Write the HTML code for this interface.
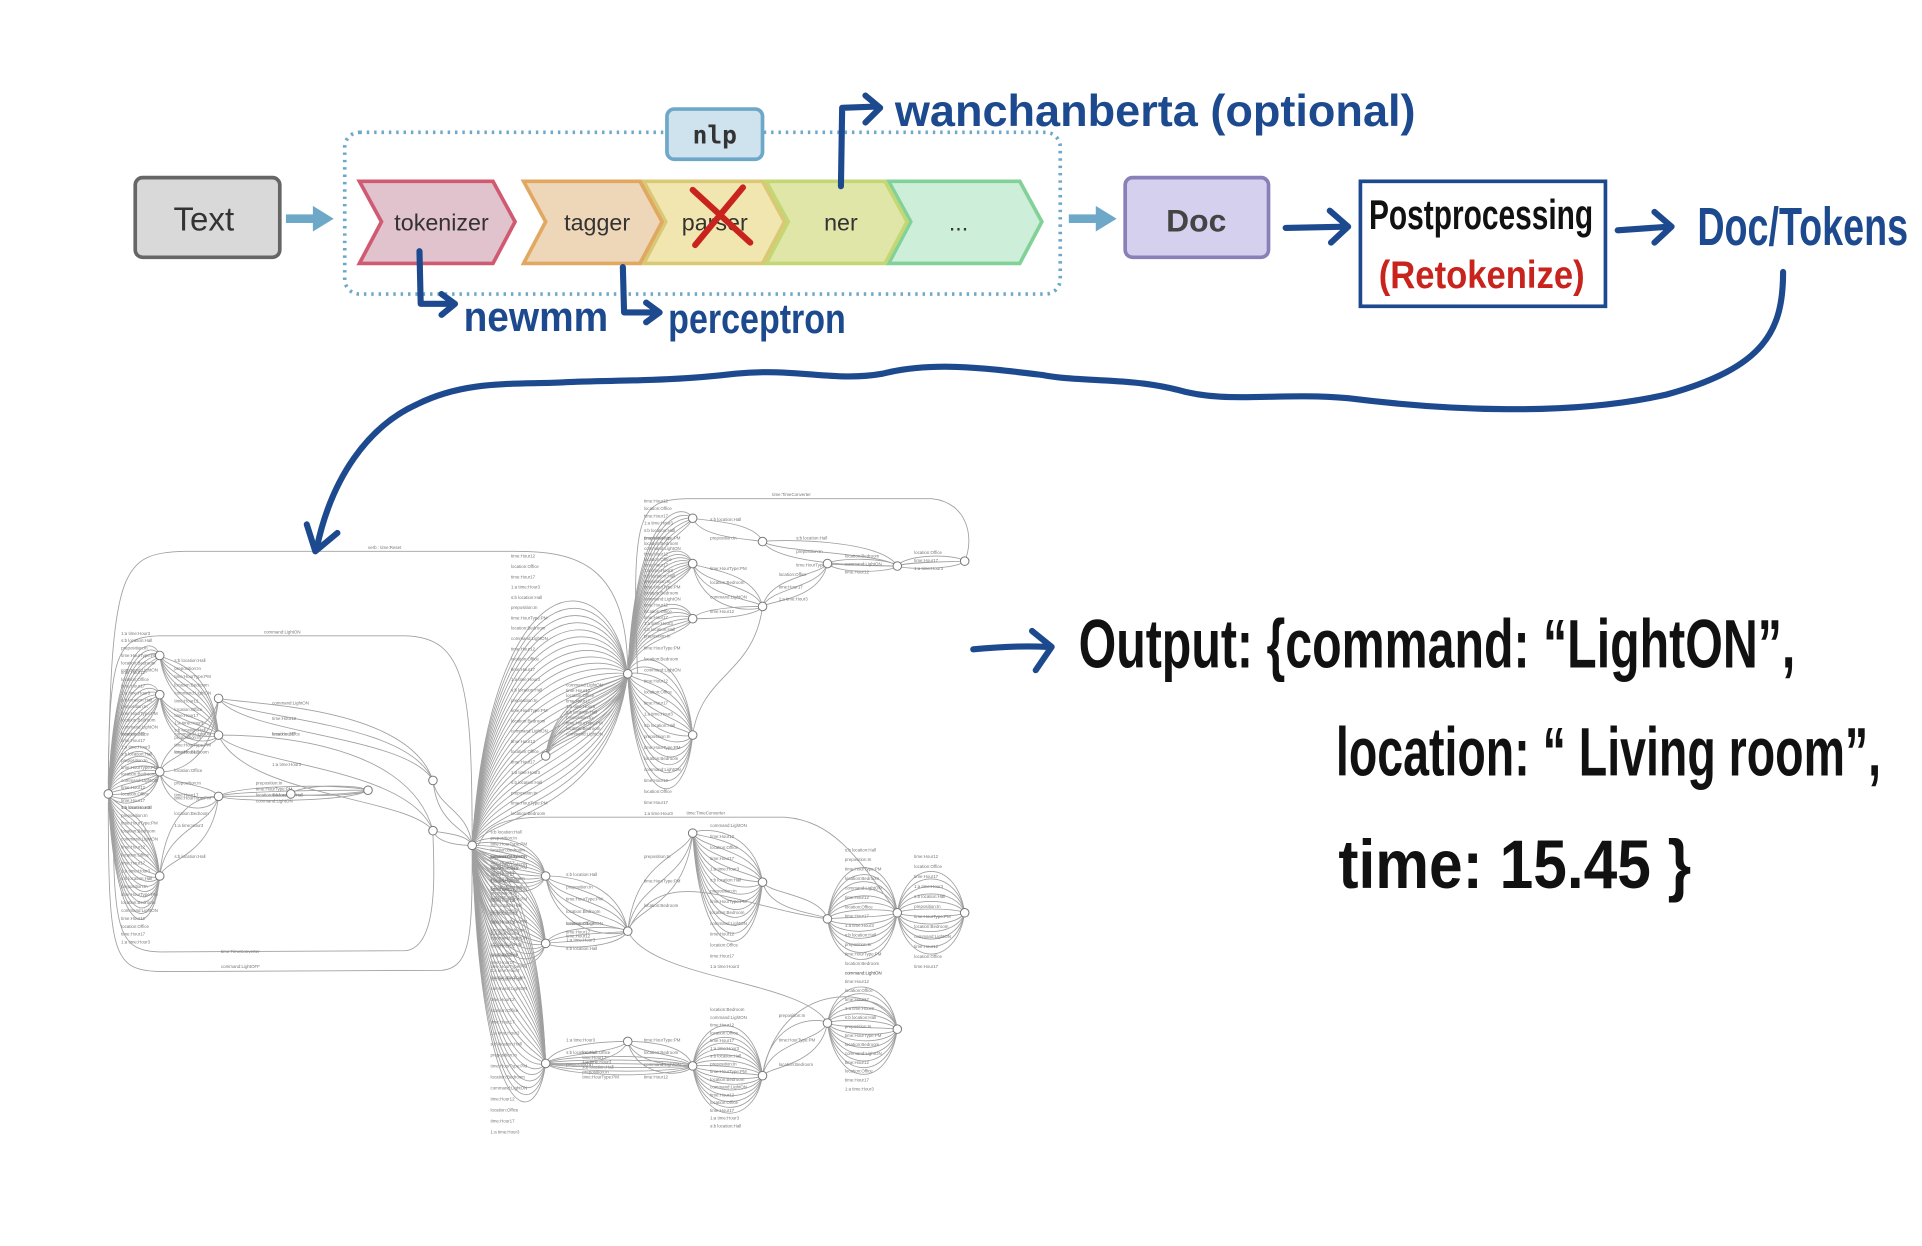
<!DOCTYPE html>
<html><head><meta charset="utf-8"><style>
html,body{margin:0;padding:0;background:#fff;width:1922px;height:1246px;overflow:hidden}
svg{display:block}
.hw{font-family:"Liberation Sans Narrow","Liberation Sans",sans-serif;font-weight:bold}
</style></head><body>
<svg id="s" width="1922" height="1246" viewBox="0 0 1568 1017" xmlns="http://www.w3.org/2000/svg">
<rect width="1568" height="1017" fill="#fff"/>
<g id="graph" fill="none" stroke="#a0a0a0" stroke-width="0.7"></g>
<g id="glabels" fill="#777" font-family="Liberation Sans, sans-serif" font-size="3.6"></g>
<g id="gnodes" fill="#fff" stroke="#777" stroke-width="0.8"></g>

<rect x="110" y="145" width="118" height="65" rx="6" fill="#d9d9d9" stroke="#666" stroke-width="3"/>
<text x="166" y="188" text-anchor="middle" font-family="Liberation Sans, sans-serif" font-size="27" fill="#333">Text</text>
<g fill="#6ea8c9"><rect x="233" y="175" width="24" height="7"/><polygon points="255,168 272,178.5 255,189"/>
<rect x="872" y="175" width="24" height="7"/><polygon points="894,168 911,178.5 894,189"/></g>
<rect x="281" y="108" width="584" height="132" rx="12" fill="none" stroke="#6ea8c9" stroke-width="3" stroke-dasharray="2 4"/>
<rect x="544" y="89" width="78" height="41" rx="6" fill="#cfe3ef" stroke="#6ea8c9" stroke-width="3"/>
<text x="583" y="117" text-anchor="middle" font-family="DejaVu Sans Mono, monospace" font-weight="bold" font-size="20" fill="#333">nlp</text>
<polygon points="725,148 832,148 850,181 832,215 725,215 743,181" fill="#cdeed8" stroke="#82d199" stroke-width="3"/>
<polygon points="625,148 722,148 740,181 722,215 625,215 643,181" fill="#e0e6a8" stroke="#c3d874" stroke-width="3"/>
<polygon points="525,148 622,148 640,181 622,215 525,215 543,181" fill="#f2e6b0" stroke="#d9c874" stroke-width="3"/>
<polygon points="427,148 522,148 540,181 522,215 427,215 445,181" fill="#eed7b8" stroke="#e1a862" stroke-width="3"/>
<polygon points="293,148 402,148 420,181 402,215 293,215 311,181" fill="#e0c3cc" stroke="#d05a72" stroke-width="3"/>
<g font-family="Liberation Sans, sans-serif" font-size="19" fill="#333" text-anchor="middle">
<text x="360" y="188">tokenizer</text><text x="487" y="188">tagger</text><text x="583" y="188">parser</text><text x="686" y="188">ner</text><text x="782" y="188">...</text></g>
<g stroke="#c8231c" stroke-width="5" stroke-linecap="round"><line x1="565" y1="155" x2="612" y2="198"/><line x1="606" y1="153" x2="567" y2="200"/></g>
<rect x="918" y="145" width="117" height="65" rx="6" fill="#d6d0ef" stroke="#8a80b8" stroke-width="3"/>
<text x="976" y="189" text-anchor="middle" font-family="Liberation Sans, sans-serif" font-weight="bold" font-size="26" fill="#444">Doc</text>
<g fill="none" stroke="#1d4a8e" stroke-width="5" stroke-linecap="round" stroke-linejoin="round">
<path d="M1049,186 L1098,185 M1085,172 L1100,185 L1086,198"/>
<path d="M1320,188 L1362,185 M1350,173 L1364,185 L1350,198"/>
<path d="M686,152 L687,88 L715,87 M706,78 L718,88 L706,100"/>
<path d="M342,205 L343,248 L368,248 M360,240 L371,248 L360,257"/>
<path d="M508,218 L509,255 L535,255 M527,247 L538,255 L527,263"/>
<path d="M1455,222 C1455,270 1440,300 1360,322 C1280,340 1180,335 1100,325 C1040,320 1000,330 960,318 C920,308 880,312 850,306 C800,300 760,295 720,305 C680,312 650,300 600,305 C540,312 500,310 460,312 C420,314 380,310 340,330 C300,348 270,390 258,448"/>
<path d="M250,428 L257,450 L275,435"/>
<path d="M794,530 C815,528 835,527 855,528 M842,515 L858,528 L845,547"/>
</g>
<g class="hw" fill="#1d4a8e">
<text x="730" y="103" font-size="36" textLength="425" lengthAdjust="spacingAndGlyphs">wanchanberta (optional)</text>
<text x="378" y="270" font-size="34" textLength="118" lengthAdjust="spacingAndGlyphs">newmm</text>
<text x="545" y="272" font-size="34" textLength="145" lengthAdjust="spacingAndGlyphs">perceptron</text>
<text x="1385" y="200" font-size="44" textLength="172" lengthAdjust="spacingAndGlyphs">Doc/Tokens</text>
</g>
<rect x="1110" y="148" width="200" height="102" fill="#fff" stroke="#1d4a8e" stroke-width="3"/>
<text class="hw" x="1117" y="187" font-size="34" fill="#111" textLength="183" lengthAdjust="spacingAndGlyphs">Postprocessing</text>
<text class="hw" x="1125" y="235" font-size="32" fill="#c8231c" textLength="168" lengthAdjust="spacingAndGlyphs">(Retokenize)</text>
<g class="hw" fill="#111">
<text x="880" y="545" font-size="56" textLength="585" lengthAdjust="spacingAndGlyphs">Output: {command: “LightON”,</text>
<text x="1090" y="633" font-size="56" textLength="445" lengthAdjust="spacingAndGlyphs">location: “ Living room”,</text>
<text x="1092" y="725" font-size="56" textLength="288" lengthAdjust="spacingAndGlyphs">time: 15.45 }</text>
</g>
</svg>
<script>
(function(){
var NS="http://www.w3.org/2000/svg",g=document.getElementById("graph"),gl=document.getElementById("glabels"),gn=document.getElementById("gnodes");
function path(d){var p=document.createElementNS(NS,"path");p.setAttribute("d",d);g.appendChild(p);}
function lab(x,y,t){var e=document.createElementNS(NS,"text");e.setAttribute("x",x);e.setAttribute("y",y);e.textContent=t;gl.appendChild(e);}
function node(x,y){var c=document.createElementNS(NS,"circle");c.setAttribute("cx",x);c.setAttribute("cy",y);c.setAttribute("r",3.5);gn.appendChild(c);}
var words=["1:a time:Hour3","s:b location:Hall","preposition:In","time:HourType:PM","location:Bedroom","command:LightON","time:Hour12","location:Office","time:Hour17"];
var wi=0;
/* fan: from a to b, n edges with mid y spanning y1..y2 */
function fan(a,b,n,y1,y2,noLab){
 for(var i=0;i<n;i++){var t=n>1?i/(n-1):0.5;var yk=y1+(y2-y1)*t;
  var dx=b[0]-a[0];var c1x=a[0]+dx*0.12,c2x=a[0]+dx*0.88;
  path("M"+a[0]+","+a[1]+" C"+c1x+","+yk+" "+c2x+","+yk+" "+b[0]+","+b[1]);
  if(!noLab){lab(a[0]+dx*0.25,yk+0.2,words[(wi++)%words.length]);}
 }
}
var N={A:[88,648],N1:[130,535],N2:[130,567],N3:[130,630],N4:[130,715],M1:[178,570],M2:[178,600],M3:[178,650],R0:[237,648],R1:[300,645],R2:[353,637],R3:[353,678],C:[385,690],
H:[512,550],H2:[565,460],H3:[565,505],H4:[565,600],H1:[565,423],T1:[622,442],T0:[622,495],T:[675,460],T2:[732,462],T3:[787,458],
L0:[445,617],L1:[445,715],L2:[445,770],L3:[445,868],P0:[512,760],P1:[565,680],P2:[622,720],P3:[565,870],P4:[622,878],Q1:[675,750],Q2:[732,745],Q3:[787,745],Q4:[675,835],Q5:[732,840],S1:[512,850]};
// left cluster
fan(N.A,N.N1,6,518,548);fan(N.A,N.N2,10,550,600);fan(N.A,N.N3,12,600,660);fan(N.A,N.N4,18,660,770);
fan(N.N1,N.M2,7,540,580);fan(N.N2,N.M2,6,585,615);fan(N.N3,N.M1,3,600,630);fan(N.N4,N.M3,3,650,700);fan(N.N3,N.M3,3,640,665);
fan(N.M1,N.R2,3,575,600);fan(N.M2,N.R3,3,600,650);fan(N.M3,N.R1,4,640,655);fan(N.R0,N.R1,2,640,650,1);
fan(N.R2,N.C,2,660,675,1);fan(N.R3,N.C,2,680,690,1);
// top-right
fan(N.C,N.H,26,455,665);fan(N.L0,N.H,10,560,600);
fan(N.H,N.H1,6,410,440);fan(N.H,N.H2,10,440,480);fan(N.H,N.H3,8,485,520);fan(N.H,N.H4,16,530,665);
fan(N.H1,N.T1,2,425,440);fan(N.H2,N.T0,4,465,500);fan(N.H3,N.T0,2,495,505,1);fan(N.T0,N.T,3,470,490);fan(N.T1,N.T2,3,440,462);fan(N.T,N.T2,3,455,468);fan(N.T2,N.T3,3,452,465);fan(N.H4,N.T0,1,550,550,1);
// bottom-right
fan(N.C,N.L1,12,680,735);fan(N.C,N.L2,16,700,800);fan(N.C,N.L3,26,700,925);
fan(N.L1,N.P0,6,715,765);fan(N.L2,N.P0,4,755,775);fan(N.P0,N.P1,3,700,740);
fan(N.P1,N.P2,14,675,790);fan(N.P2,N.Q1,2,730,745,1);fan(N.Q1,N.Q2,14,695,795);fan(N.Q2,N.Q3,12,700,790);
fan(N.L3,N.S1,3,850,870);fan(N.S1,N.P3,4,850,880);fan(N.L3,N.P3,6,860,880);fan(N.P3,N.P4,16,825,920);fan(N.P4,N.Q4,3,830,870);fan(N.Q4,N.Q5,14,795,890);
fan(N.P0,N.Q4,1,800,800,1);fan(N.P4,N.Q5,1,800,800,1);
path("M88,640 C90,460 100,452 150,450 L420,450 C470,450 512,460 512,550");
path("M88,650 C88,530 95,520 130,519 L330,519 C380,520 385,560 385,690");
path("M88,655 C88,780 92,792 130,793 L360,792 C385,790 385,760 385,690");
path("M92,660 C92,760 96,776 130,777 L330,776 C360,774 353,700 353,678");
path("M520,550 C515,420 520,408 560,407 L760,407 C790,410 795,440 787,458");
path("M390,690 C395,680 400,668 440,667 L640,667 C680,670 700,700 732,745");
path("M512,760 C540,700 600,740 675,750");
for(var k in N)node(N[k][0],N[k][1]);
lab(300,448,"verb : time:Reset");lab(215,517,"command:LightON");lab(630,405,"time:TimeConverter");lab(180,778,"time:TimeConverter");lab(180,790,"command:LightOFF");lab(560,665,"time:TimeConverter");
})();
</script>
</body></html>
